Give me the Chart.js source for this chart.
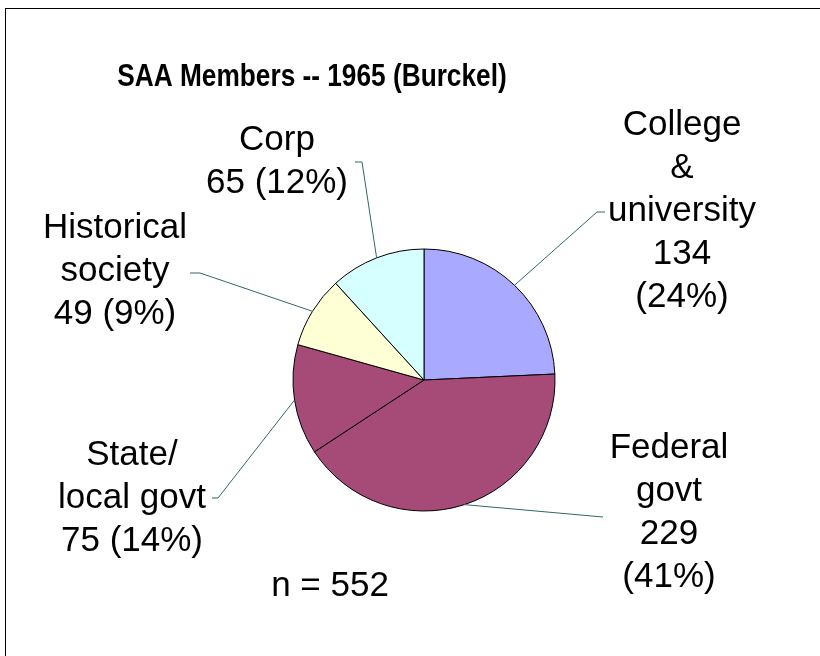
<!DOCTYPE html>
<html>
<head>
<meta charset="utf-8">
<script src="https://cdn.jsdelivr.net/npm/chart.js@4/dist/chart.umd.min.js"></script>
<style>
  body { margin: 0; background: #fff; overflow: hidden; }
  #frame { position: absolute; left: 5px; top: 8px; width: 840px; height: 680px; border: 1px solid #000; }
  #wrap { position: absolute; left: 0; top: 0; width: 820px; height: 656px; }
</style>
</head>
<body>
<div id="frame"></div>
<div id="wrap"><canvas id="saaPie" width="820" height="656"></canvas></div>
<script>
// categories and values
const categories = ["College & university", "Federal govt", "State/local govt", "Historical society", "Corp"];
const labelLines = [["College", "&", "university"], ["Federal", "govt"], ["State/", "local govt"], ["Historical", "society"], ["Corp"]];
const members = [134, 229, 75, 49, 65];
const sliceColors = ["#A9AAFF", "#A64A78", "#A64A78", "#FFFFD6", "#D6FFFF"];
const chartTitle = "SAA Members -- 1965 (Burckel)";
const total = members.reduce((a, b) => a + b, 0);

// label placement (text centre, first line y, elbow, tick end)
const labelLayout = [
    { x: 682, y: 125, elbow: [597, 212], end: [605, 212], valueSplit: true },
    { x: 669, y: 448, elbow: null, end: [603, 517], valueSplit: true },
    { x: 132, y: 455, elbow: [218, 498], end: [212, 498] },
    { x: 115, y: 228, elbow: [200, 273], end: [190, 273] },
    { x: 277, y: 140, elbow: [362, 162], end: [355, 162] },
];

const labelPlugin = {
    id: "saaLabels",
    afterDraw(chart) {
        const ctx = chart.ctx;
        const meta = chart.getDatasetMeta(0);
        ctx.save();
        // leader lines
        ctx.strokeStyle = "#336666";
        ctx.lineWidth = 1;
        meta.data.forEach((arc, i) => {
            const lay = labelLayout[i];
            const mid = (arc.startAngle + arc.endAngle) / 2;
            const sx = arc.x + Math.cos(mid) * arc.outerRadius;
            const sy = arc.y + Math.sin(mid) * arc.outerRadius;
            ctx.beginPath();
            ctx.moveTo(sx, sy);
            if (lay.elbow) ctx.lineTo(lay.elbow[0], lay.elbow[1]);
            ctx.lineTo(lay.end[0], lay.end[1]);
            ctx.stroke();
        });
        // labels
        ctx.fillStyle = "#000";
        ctx.textAlign = "center";
        ctx.textBaseline = "middle";
        ctx.font = "35px 'Liberation Sans', Arial, sans-serif";
        const lh = 43;
        members.forEach((v, i) => {
            const lay = labelLayout[i];
            const pct = Math.round(v / total * 100);
            let lines = labelLines[i].slice();
            if (lay.valueSplit) {
                lines.push(String(v), "(" + pct + "%)");
            } else {
                lines.push(v + " (" + pct + "%)");
            }
            lines.forEach((t, k) => ctx.fillText(t, lay.x, lay.y + k * lh));
        });
        ctx.fillText("n = " + total, 330, 586);
        // title, condensed like the original
        ctx.font = "bold 32px 'Liberation Sans', Arial, sans-serif";
        ctx.translate(312, 77);
        ctx.scale(0.82, 1);
        ctx.fillText(chartTitle, 0, 0);
        ctx.restore();
    }
};

new Chart(document.getElementById("saaPie").getContext("2d"), {
    type: "pie",
    data: {
        labels: categories,
        datasets: [
            {
                data: members,
                backgroundColor: sliceColors,
                borderColor: "#000",
                borderWidth: 1,
                radius: 131,
            },
        ],
    },
    options: {
        responsive: false,
        animation: false,
        layout: { padding: { left: 28, right: 0, top: 104, bottom: 0 } },
        plugins: {
            legend: { display: false },
            tooltip: { enabled: false },
        },
    },
    plugins: [labelPlugin],
});
</script>
</body>
</html>
